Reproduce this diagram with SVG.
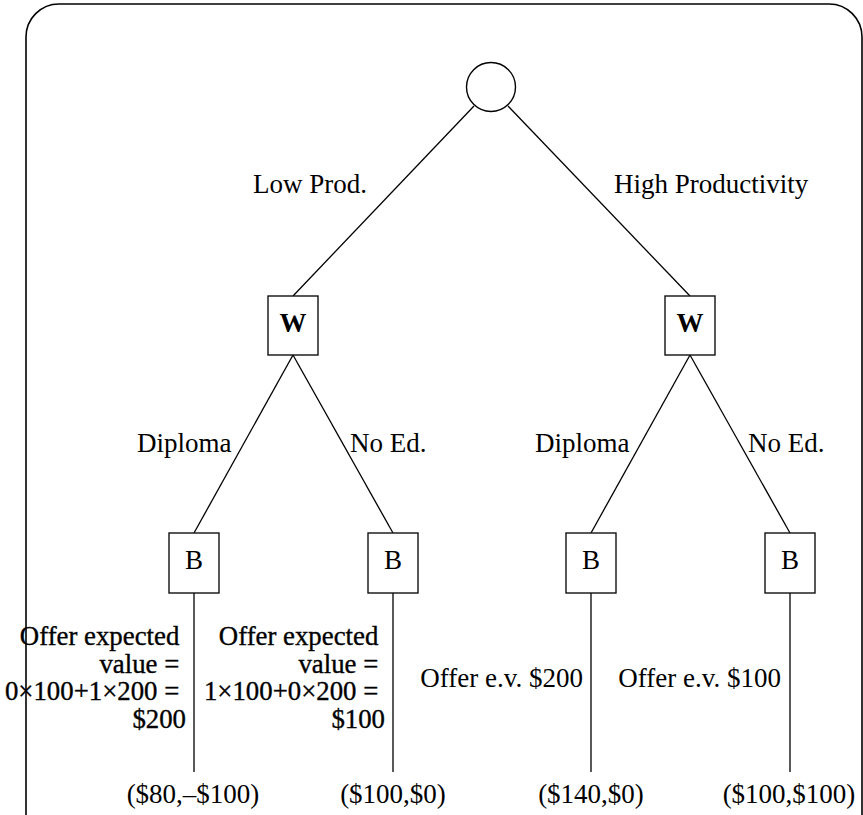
<svg xmlns="http://www.w3.org/2000/svg" width="863" height="815" viewBox="0 0 863 815">
  <style>
    .frame { fill: none; stroke: #000; stroke-width: 1.6; }
    .edge { stroke: #000; stroke-width: 1.3; fill: none; }
    .box { fill: #fff; stroke: #111; stroke-width: 1.4; }
    .chance { fill: #fff; stroke: #000; stroke-width: 1.4; }
    text { font-family: "Liberation Serif", "Times New Roman", serif; font-size: 27px; fill: #000; }
    .mid { text-anchor: middle; }
    .end { text-anchor: end; }
    .big { font-size: 26.8px; stroke: #000; stroke-width: 0.35; }
  </style>
  <rect width="863" height="815" fill="#fff"/>

  <!-- outer frame, open at the bottom -->
  <path class="frame" d="M26 815 V37 A33 33 0 0 1 59 4 H829 A33 33 0 0 1 862 37 V815"/>

  <g id="connectors">
    <line class="edge" x1="474" y1="106" x2="293" y2="296"/>
    <line class="edge" x1="508" y1="106" x2="690" y2="296"/>
    <line class="edge" x1="293" y1="355" x2="194" y2="533"/>
    <line class="edge" x1="293" y1="355" x2="393" y2="533"/>
    <line class="edge" x1="690" y1="355" x2="591" y2="533"/>
    <line class="edge" x1="690" y1="355" x2="790" y2="533"/>
    <line class="edge" x1="194" y1="593" x2="194" y2="772"/>
    <line class="edge" x1="393" y1="593" x2="393" y2="772"/>
    <line class="edge" x1="591" y1="593" x2="591" y2="772"/>
    <line class="edge" x1="790" y1="593" x2="790" y2="772"/>
  </g>

  <g id="edge-labels">
    <text x="253" y="193">Low Prod.</text>
    <text x="614" y="193">High Productivity</text>
    <text x="137" y="452">Diploma</text>
    <text x="350" y="452">No Ed.</text>
    <text x="535" y="452">Diploma</text>
    <text x="748" y="452">No Ed.</text>
  </g>

  <g id="nature">
    <circle class="chance" cx="491" cy="87" r="24.5"/>
  </g>

  <g id="worker-low">
    <rect class="box" x="268" y="296" width="50" height="59"/>
    <text class="mid" x="293" y="332" font-weight="bold">W</text>
  </g>
  <g id="worker-high">
    <rect class="box" x="665" y="296" width="50" height="59"/>
    <text class="mid" x="690" y="332" font-weight="bold">W</text>
  </g>

  <g id="boss-low-diploma">
    <rect class="box" x="169" y="533" width="50" height="60"/>
    <text class="mid" x="194" y="569">B</text>
  </g>
  <g id="boss-low-noed">
    <rect class="box" x="368" y="533" width="50" height="60"/>
    <text class="mid" x="393" y="569">B</text>
  </g>
  <g id="boss-high-diploma">
    <rect class="box" x="566" y="533" width="50" height="60"/>
    <text class="mid" x="591" y="569">B</text>
  </g>
  <g id="boss-high-noed">
    <rect class="box" x="765" y="533" width="50" height="60"/>
    <text class="mid" x="790" y="569">B</text>
  </g>

  <g id="offers">
    <text class="end big" x="186">
      <tspan x="186" y="645">Offer expected</tspan>
      <tspan x="186" y="672.5">value =</tspan>
      <tspan x="186" y="700">0×100+1×200 =</tspan>
      <tspan x="186" y="727.5">$200</tspan>
    </text>
    <text class="end big" x="385">
      <tspan x="385" y="645">Offer expected</tspan>
      <tspan x="385" y="672.5">value =</tspan>
      <tspan x="385" y="700">1×100+0×200 =</tspan>
      <tspan x="385" y="727.5">$100</tspan>
    </text>
    <text class="end" x="583" y="687">Offer e.v. $200</text>
    <text class="end" x="781" y="687">Offer e.v. $100</text>
  </g>

  <g id="payoffs">
    <text class="mid" x="193" y="803">($80,–$100)</text>
    <text class="mid" x="393" y="803">($100,$0)</text>
    <text class="mid" x="591" y="803">($140,$0)</text>
    <text class="mid" x="789" y="803">($100,$100)</text>
  </g>
</svg>
